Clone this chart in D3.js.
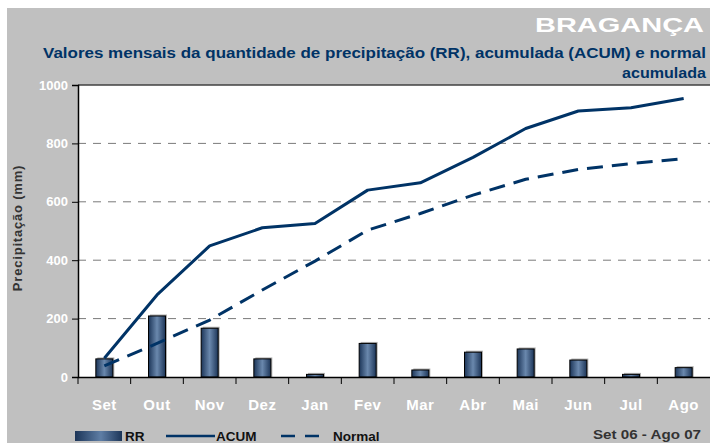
<!DOCTYPE html>
<html><head><meta charset="utf-8">
<script src="https://cdn.jsdelivr.net/npm/d3@7"></script>
<style>html,body{margin:0;padding:0;background:#fff;}svg{display:block;}</style>
</head><body>
<svg id="chart" width="710" height="443"></svg>
<script>
const months = ["Set","Out","Nov","Dez","Jan","Fev","Mar","Abr","Mai","Jun","Jul","Ago"];
const rr     = [62, 209, 167, 62, 9, 115, 24, 85, 96, 58, 9, 32];
const acum   = [64, 281, 449, 511, 526, 640, 665, 752, 851, 911, 922, 954];
const normal = [38, 115, 195, 298, 397, 503, 560, 623, 677, 711, 731, 748];
const yTicks = [0, 200, 400, 600, 800, 1000];

const svg = d3.select("#chart");
const W = 710, H = 443;
const font = "'Liberation Sans', Arial, sans-serif";
const navy = "#003366";

// background
svg.append("rect").attr("x", 7).attr("y", 8).attr("width", W - 7).attr("height", H - 8).attr("fill", "#c0c0c0");

const x = d3.scaleBand().domain(months).range([78, 710]).padding(0);
const y = d3.scaleLinear().domain([0, 1000]).range([377, 85]);

// plot area
svg.append("rect").attr("x", 78).attr("y", 85).attr("width", 710 - 78).attr("height", 377 - 85).attr("fill", "#fff");

// gradient for bars
const defs = svg.append("defs");
const g = defs.append("linearGradient").attr("id", "barGrad").attr("x1", "0%").attr("x2", "100%").attr("y1", "0%").attr("y2", "0%");
g.append("stop").attr("offset", "0%").attr("stop-color", "#1c3558");
g.append("stop").attr("offset", "50%").attr("stop-color", "#6a88ad");
g.append("stop").attr("offset", "100%").attr("stop-color", "#1c3558");
const lg = defs.append("linearGradient").attr("id", "legGrad").attr("x1", "0%").attr("x2", "100%");
lg.append("stop").attr("offset", "0%").attr("stop-color", "#1c3558");
lg.append("stop").attr("offset", "55%").attr("stop-color", "#5f7ea5");
lg.append("stop").attr("offset", "100%").attr("stop-color", "#1c3558");

// gridlines
svg.append("g").selectAll("line").data(yTicks.filter(d => d > 0 && d < 1000)).join("line")
  .attr("x1", 78).attr("x2", 710).attr("y1", d => y(d)).attr("y2", d => y(d))
  .attr("stroke", "#7a7a7a").attr("stroke-width", 1).attr("stroke-dasharray", "8,7");

// top border
svg.append("line").attr("x1", 78).attr("x2", 710).attr("y1", 85).attr("y2", 85).attr("stroke", "#404040").attr("stroke-width", 1.5);

// bars
const bw = 17;
svg.append("g").selectAll("rect.shadow").data(rr).join("rect")
  .attr("x", (d, i) => x(months[i]) + x.bandwidth() / 2 - bw / 2 + 1.5)
  .attr("y", d => y(d) - 1.5)
  .attr("width", bw).attr("height", d => y(0) - y(d) + 1.5)
  .attr("fill", "#b0b0b0");
svg.append("g").selectAll("rect.bar").data(rr).join("rect")
  .attr("x", (d, i) => x(months[i]) + x.bandwidth() / 2 - bw / 2)
  .attr("y", d => y(d))
  .attr("width", bw).attr("height", d => y(0) - y(d))
  .attr("fill", "url(#barGrad)").attr("stroke", "#000").attr("stroke-width", 1);

// lines
const line = d3.line().x((d, i) => x(months[i]) + x.bandwidth() / 2).y(d => y(d));
svg.append("path").datum(normal).attr("d", line).attr("fill", "none")
  .attr("stroke", navy).attr("stroke-width", 3).attr("stroke-dasharray", "16,9");
svg.append("path").datum(acum).attr("d", line).attr("fill", "none")
  .attr("stroke", navy).attr("stroke-width", 3).attr("stroke-linejoin", "round");

// axes
const yAxis = d3.axisLeft(y).tickValues(yTicks).tickFormat(d3.format("d")).tickSize(6).tickPadding(4);
const ya = svg.append("g").attr("transform", "translate(78,0)").call(yAxis);
ya.select(".domain").attr("stroke", "#000").attr("stroke-width", 1.5);
ya.selectAll(".tick line").attr("stroke", "#000");
ya.selectAll(".tick text").attr("fill", "#fff").attr("font-family", font).attr("font-weight", "bold").attr("font-size", 13);

const xAxis = d3.axisBottom(x).tickSize(0).tickPadding(22);
const xa = svg.append("g").attr("transform", "translate(0,377)").call(xAxis);
xa.select(".domain").attr("stroke", "#000").attr("stroke-width", 1.5);
xa.selectAll(".tick text").attr("fill", "#fff").attr("font-family", font).attr("font-weight", "bold").attr("font-size", 15).attr("letter-spacing", "0.5px");
// band boundary ticks
svg.append("g").selectAll("line").data(months).join("line")
  .attr("x1", d => x(d)).attr("x2", d => x(d)).attr("y1", 377).attr("y2", 384)
  .attr("stroke", "#000").attr("stroke-width", 1);

// y title
svg.append("text").attr("transform", "translate(22,228) rotate(-90)")
  .attr("text-anchor", "middle").attr("font-family", font).attr("font-weight", "bold")
  .attr("font-size", 13).attr("fill", "#333").attr("letter-spacing", "0.8px")
  .text("Precipitação  (mm)");

// titles
svg.append("text").attr("x", 535).attr("y", 32)
  .attr("font-family", font).attr("font-weight", "bold").attr("font-size", 21)
  .attr("fill", "#fff").attr("textLength", 169).attr("lengthAdjust", "spacingAndGlyphs").text("BRAGANÇA");
svg.append("text").attr("x", 43).attr("y", 58)
  .attr("font-family", font).attr("font-weight", "bold").attr("font-size", 15.5)
  .attr("fill", navy).attr("textLength", 663).attr("lengthAdjust", "spacingAndGlyphs")
  .text("Valores mensais da quantidade de precipitação (RR), acumulada (ACUM) e normal");
svg.append("text").attr("x", 622).attr("y", 78)
  .attr("font-family", font).attr("font-weight", "bold").attr("font-size", 15.5)
  .attr("fill", navy).attr("textLength", 84).attr("lengthAdjust", "spacingAndGlyphs").text("acumulada");

// legend
const ly = 436;
svg.append("rect").attr("x", 75).attr("y", ly - 5).attr("width", 47).attr("height", 10).attr("fill", "url(#legGrad)");
svg.append("text").attr("x", 125).attr("y", ly + 5).attr("font-family", font).attr("font-weight", "bold").attr("font-size", 13.5).attr("fill", "#111").text("RR");
svg.append("line").attr("x1", 166).attr("x2", 215).attr("y1", ly).attr("y2", ly).attr("stroke", navy).attr("stroke-width", 2.5);
svg.append("text").attr("x", 216).attr("y", ly + 5).attr("font-family", font).attr("font-weight", "bold").attr("font-size", 13.5).attr("fill", "#111").text("ACUM");
svg.append("line").attr("x1", 281).attr("x2", 323).attr("y1", ly).attr("y2", ly).attr("stroke", navy).attr("stroke-width", 2.5).attr("stroke-dasharray", "14,10");
svg.append("text").attr("x", 333).attr("y", ly + 5).attr("font-family", font).attr("font-weight", "bold").attr("font-size", 13.5).attr("fill", "#111").text("Normal");
svg.append("text").attr("x", 593).attr("y", ly + 3).attr("font-family", font).attr("font-weight", "bold").attr("font-size", 13.5).attr("fill", "#333")
  .attr("textLength", 108).attr("lengthAdjust", "spacingAndGlyphs").text("Set 06 - Ago 07");
</script>
</body></html>
